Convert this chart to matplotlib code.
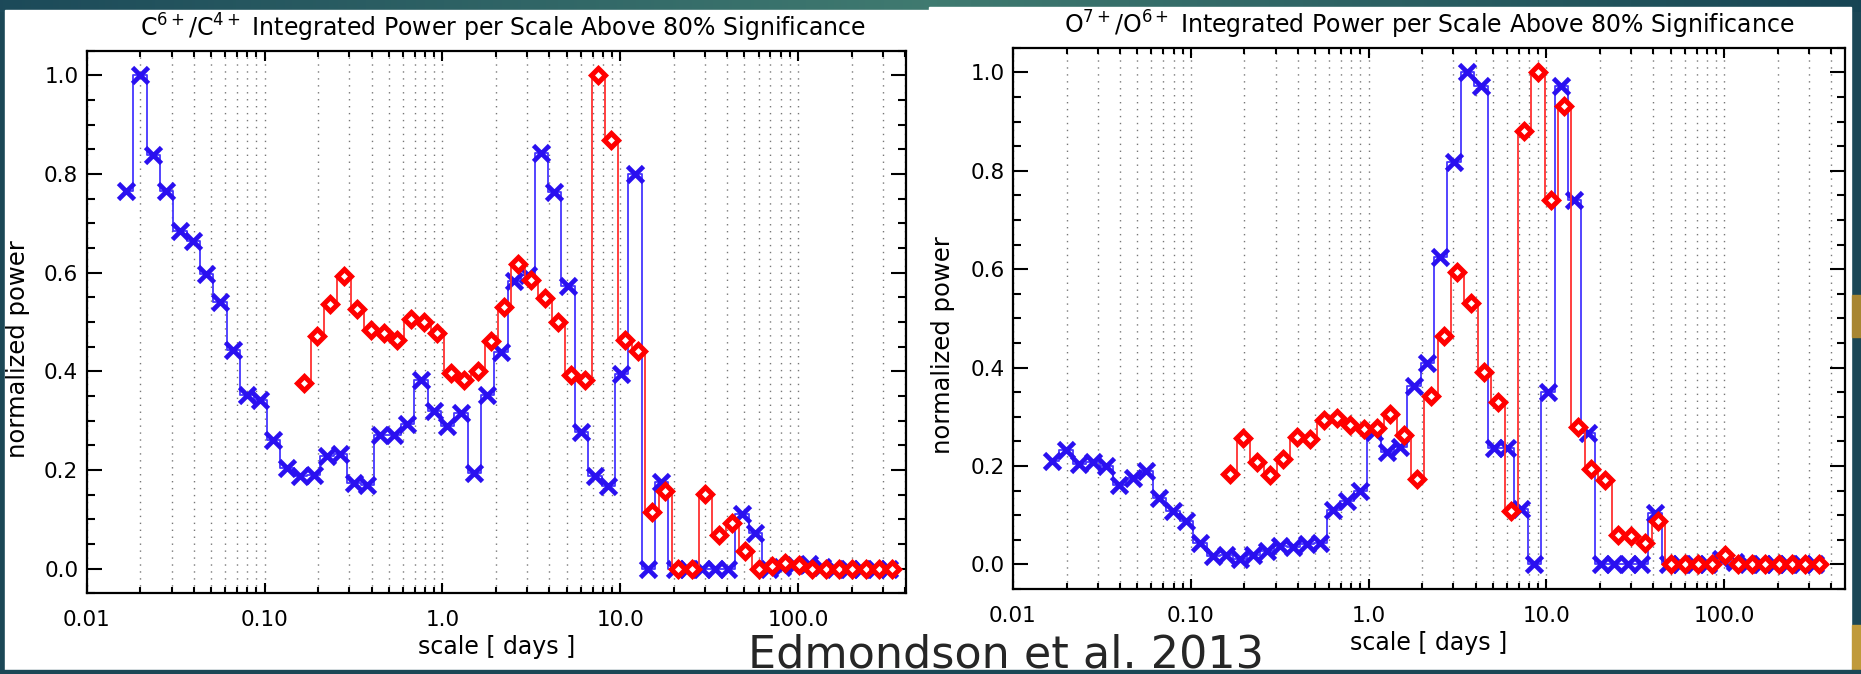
import numpy as np
import matplotlib
matplotlib.use('Agg')
import matplotlib.pyplot as plt
from matplotlib.patches import Rectangle
from matplotlib.ticker import LogLocator, NullFormatter, MultipleLocator

plt.rcParams['font.family'] = ['DejaVu Sans']

# wavelet scales [days]
scale_blue = [0.01667, 0.01982, 0.02357, 0.02803, 0.03333, 0.03964, 0.04714, 0.05606,
              0.06667, 0.07928, 0.09428, 0.1121, 0.1333, 0.1586, 0.1886, 0.2242,
              0.2667, 0.3171, 0.3771, 0.4485, 0.5333, 0.6342, 0.7542, 0.8970,
              1.067, 1.268, 1.508, 1.794, 2.133, 2.537, 3.017, 3.588,
              4.267, 5.074, 6.034, 7.176, 8.533, 10.15, 12.07, 14.35,
              17.07, 20.30, 24.14, 28.70, 34.13, 40.59, 48.27, 57.41,
              68.27, 81.18, 96.54, 114.8, 136.5, 162.4, 193.1, 229.6,
              273.1, 324.7]
scale_red = [0.1660, 0.1974, 0.2348, 0.2792, 0.3320, 0.3948, 0.4696, 0.5584,
             0.6640, 0.7897, 0.9391, 1.117, 1.328, 1.579, 1.878, 2.234,
             2.656, 3.159, 3.756, 4.467, 5.312, 6.318, 7.513, 8.934,
             10.62, 12.64, 15.03, 17.87, 21.25, 25.27, 30.05, 35.74,
             42.50, 50.54, 60.10, 71.47, 84.99, 101.1, 120.2, 143.0,
             170.0, 202.2, 240.4, 285.9, 340.0]

# C6+/C4+ panel
c_blue = [0.766, 1.000, 0.839, 0.765, 0.685, 0.665, 0.597, 0.541,
          0.443, 0.352, 0.342, 0.260, 0.205, 0.187, 0.189, 0.228,
          0.233, 0.174, 0.170, 0.271, 0.271, 0.293, 0.382, 0.320,
          0.289, 0.316, 0.194, 0.352, 0.439, 0.583, 0.595, 0.842,
          0.764, 0.573, 0.277, 0.187, 0.168, 0.394, 0.801, 0.000,
          0.176, 0.000, 0.000, 0.000, 0.000, 0.000, 0.110, 0.072,
          0.000, 0.003, 0.008, 0.010, 0.004, 0.000, 0.000, 0.000,
          0.000, 0.000]
c_red = [0.376, 0.471, 0.537, 0.594, 0.526, 0.483, 0.478, 0.464,
         0.506, 0.499, 0.477, 0.396, 0.382, 0.401, 0.461, 0.531,
         0.618, 0.586, 0.548, 0.501, 0.393, 0.383, 1.000, 0.868,
         0.464, 0.441, 0.115, 0.157, 0.000, 0.000, 0.152, 0.068,
         0.093, 0.035, 0.000, 0.005, 0.012, 0.008, 0.000, 0.000,
         0.000, 0.000, 0.000, 0.000, 0.000]

# O7+/O6+ panel
o_blue = [0.210, 0.233, 0.205, 0.208, 0.200, 0.162, 0.176, 0.190,
          0.134, 0.108, 0.088, 0.043, 0.017, 0.019, 0.011, 0.019,
          0.027, 0.038, 0.035, 0.042, 0.043, 0.111, 0.128, 0.149,
          0.270, 0.229, 0.239, 0.362, 0.409, 0.625, 0.817, 1.000,
          0.973, 0.236, 0.236, 0.113, 0.000, 0.351, 0.972, 0.741,
          0.267, 0.000, 0.000, 0.000, 0.000, 0.104, 0.000, 0.000,
          0.000, 0.000, 0.010, 0.004, 0.000, 0.000, 0.000, 0.000,
          0.000, 0.000]
o_red = [0.183, 0.257, 0.208, 0.181, 0.215, 0.258, 0.254, 0.294,
         0.298, 0.284, 0.276, 0.278, 0.305, 0.263, 0.174, 0.343,
         0.464, 0.594, 0.531, 0.390, 0.330, 0.109, 0.880, 1.000,
         0.740, 0.931, 0.279, 0.194, 0.171, 0.060, 0.058, 0.043,
         0.089, 0.000, 0.000, 0.000, 0.000, 0.020, 0.000, 0.000,
         0.000, 0.000, 0.000, 0.000, 0.000]

titles = [r'C$^{6+}$/C$^{4+}$ Integrated Power per Scale Above 80% Significance',
          r'O$^{7+}$/O$^{6+}$ Integrated Power per Scale Above 80% Significance']
xtick_vals = [0.01, 0.1, 1.0, 10.0, 100.0]
xtick_labels = ['0.01', '0.10', '1.0', '10.0', '100.0']
ytick_vals = [0.0, 0.2, 0.4, 0.6, 0.8, 1.0]
ytick_labels = ['0.0', '0.2', '0.4', '0.6', '0.8', '1.0']

W, H = 1861, 674
fig = plt.figure(figsize=(W / 100, H / 100), dpi=100)
fig.patch.set_facecolor('#1b4756')

# slide background
bg = fig.add_axes([0, 0, 1, 1], zorder=-10)
bg.set_xlim(0, W)
bg.set_ylim(H, 0)
bg.axis('off')
t = np.linspace(0, 1, 600)
r = np.interp(t, [0, 0.5, 1], [0.11, 0.25, 0.09])
g = np.interp(t, [0, 0.5, 1], [0.29, 0.48, 0.27])
b = np.interp(t, [0, 0.5, 1], [0.35, 0.44, 0.33])
band = np.dstack([r, g, b])
bg.imshow(band, extent=[0, W, 12, 0], aspect='auto', zorder=0)
bg.add_patch(Rectangle((5, 10), 924, 661, color='white', zorder=1))
bg.add_patch(Rectangle((929, 7), 922, 662, color='white', zorder=1))
bg.add_patch(Rectangle((1852, 295), 9, 42, color='#a88632', zorder=1))
bg.add_patch(Rectangle((1852, 625), 9, 49, color='#c09a3a', zorder=1))


def panel(rect, title, blue, red, xmax):
    ax = fig.add_axes(rect)
    ax.set_facecolor('none')
    ax.set_xscale('log')
    ax.set_xlim(0.01, xmax)
    ax.set_ylim(-0.05, 1.05)

    ax.plot(scale_blue, blue, drawstyle='steps-mid', color='#4536ff', lw=1.3, zorder=3)
    ax.plot(scale_blue, blue, ls='none', marker='x', ms=11, mew=3.4,
            color='#2a10f0', zorder=4)
    ax.plot(scale_red, red, drawstyle='steps-mid', color='#ff3030', lw=1.3, zorder=5)
    ax.plot(scale_red, red, ls='none', marker='D', ms=7.5, mew=3.6,
            mec='#ff0000', mfc='white', zorder=6)

    ax.set_xticks(xtick_vals, xtick_labels)
    ax.xaxis.set_minor_locator(LogLocator(base=10, subs=np.arange(2, 10), numticks=20))
    ax.xaxis.set_minor_formatter(NullFormatter())
    ax.set_yticks(ytick_vals, ytick_labels)
    ax.yaxis.set_minor_locator(MultipleLocator(0.05))
    ax.grid(True, which='both', axis='x', ls=(0, (1, 4)), color='#777777', lw=1)

    ax.tick_params(which='both', direction='in', top=True, right=True,
                   width=1.5, labelsize=15.5)
    ax.tick_params(axis='x', which='major', length=7, pad=12)
    ax.tick_params(axis='x', which='minor', length=4)
    ax.tick_params(axis='y', which='major', length=11, pad=6)
    ax.tick_params(axis='y', which='minor', length=6)
    for s in ax.spines.values():
        s.set_linewidth(1.6)

    ax.set_title(title, fontsize=17, pad=10)
    ax.set_xlabel('scale [ days ]', fontsize=17)
    ax.xaxis.label.set_va('center')
    ax.xaxis.set_label_coords(0.5, -0.099)
    ax.set_ylabel('normalized power', fontsize=17.5)
    ax.yaxis.label.set_va('center')
    ax.yaxis.set_label_coords(-0.084, 0.45)
    return ax


ax1 = panel([86.7 / W, 1 - 593.3 / H, 819.3 / W, 542.6 / H], titles[0], c_blue, c_red, 405)
ax1.title.set_x(0.508)
panel([1013 / W, 1 - 589 / H, 831.5 / W, 541.3 / H], titles[1], o_blue, o_red, 475)

fig.text(748 / W, 1 - 668 / H, 'Edmondson et al. 2013', fontsize=32,
         color='#262626', ha='left', va='baseline', zorder=20)
fig.add_artist(Rectangle((0, 0), 1, 4 / H, transform=fig.transFigure,
                         color='#1b4756', zorder=30))

fig.savefig('out.png', dpi=100, facecolor=fig.get_facecolor())
